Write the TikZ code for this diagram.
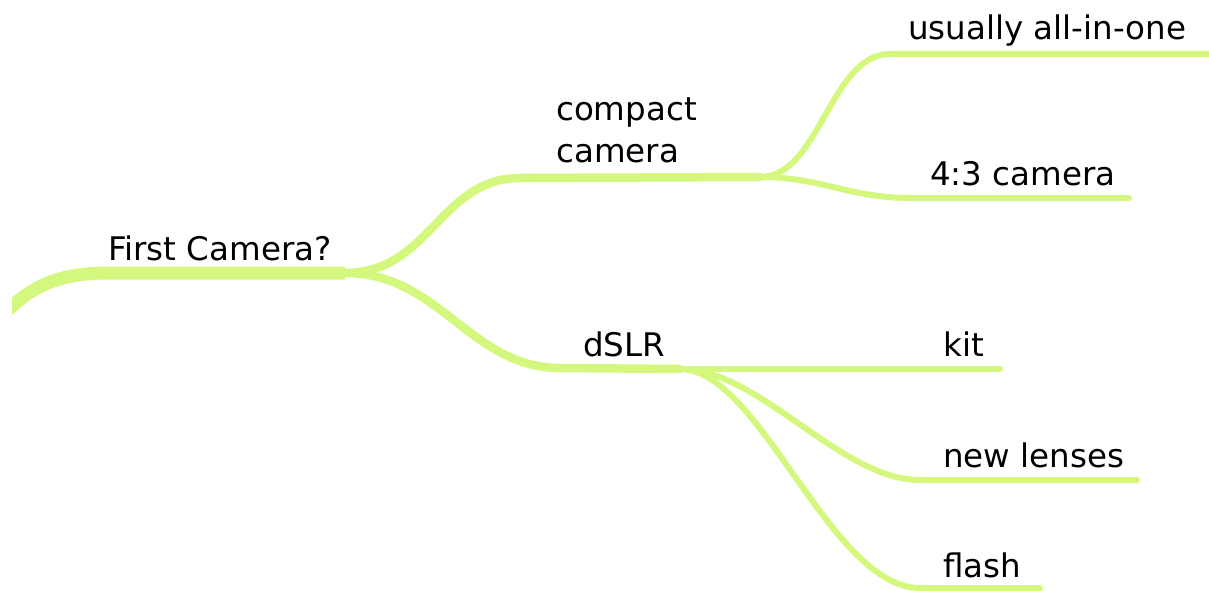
\documentclass[tikz,border=0pt]{standalone}
\usepackage{fontspec}
\setmainfont{DejaVu Sans}
\definecolor{branch}{RGB}{212,248,125}
\begin{document}
\begin{tikzpicture}[x=1pt,y=-1pt,
  lbl/.style={anchor=base west,inner sep=0pt,font=\fontsize{32.5}{42}\selectfont,align=left},
  trunk/.style={draw=branch,line width=13pt},
  limb/.style={draw=branch,line width=8.5pt,line cap=round},
  twig/.style={draw=branch,line width=6pt,line cap=round}]
\useasboundingbox (0,0) rectangle (1209,591);
% coordinates
\coordinate (r0) at (4,314);
\coordinate (j0) at (345,273);
\coordinate (j1) at (760,177);
\coordinate (j2) at (680,369);
\coordinate (e1) at (1209,54);
\coordinate (e2) at (1129,198);
\coordinate (e3) at (1000,369);
\coordinate (e4) at (1137,480);
\coordinate (e5) at (1040,588);
% labels
\node[lbl] (root) at (108,260) {First Camera?};
\node[lbl] (compact) at (556,162) {compact\\camera};
\node[lbl] (dslr) at (583,356) {dSLR};
\node[lbl] (allinone) at (908,40) {usually all-in-one};
\node[lbl] (ft) at (930,185) {4:3 camera};
\node[lbl] (kit) at (943,356) {kit};
\node[lbl] (lenses) at (943,467) {new lenses};
\node[lbl] (flash) at (943,577) {flash};
% connectors
\begin{scope}
\clip (12,0) rectangle (1209,591);
\draw[trunk] (r0) .. controls (35,282) and (65,273) .. (110,273) -- (j0);
\end{scope}
\draw[limb] (j0) .. controls (430,273) and (440,178) .. (520,178) -- (j1);
\draw[limb] (j0) .. controls (440,273) and (470,368) .. (560,368) -- (j2);
\draw[twig] (j1) .. controls (820,177) and (830,54) .. (890,54) -- (e1);
\draw[twig] (j1) .. controls (820,177) and (850,198) .. (910,198) -- (e2);
\draw[twig] (j2) -- (e3);
\draw[twig] (j2) .. controls (760,369) and (840,480) .. (920,480) -- (e4);
\draw[twig] (j2) .. controls (760,369) and (830,588) .. (920,588) -- (e5);
\end{tikzpicture}
\end{document}
